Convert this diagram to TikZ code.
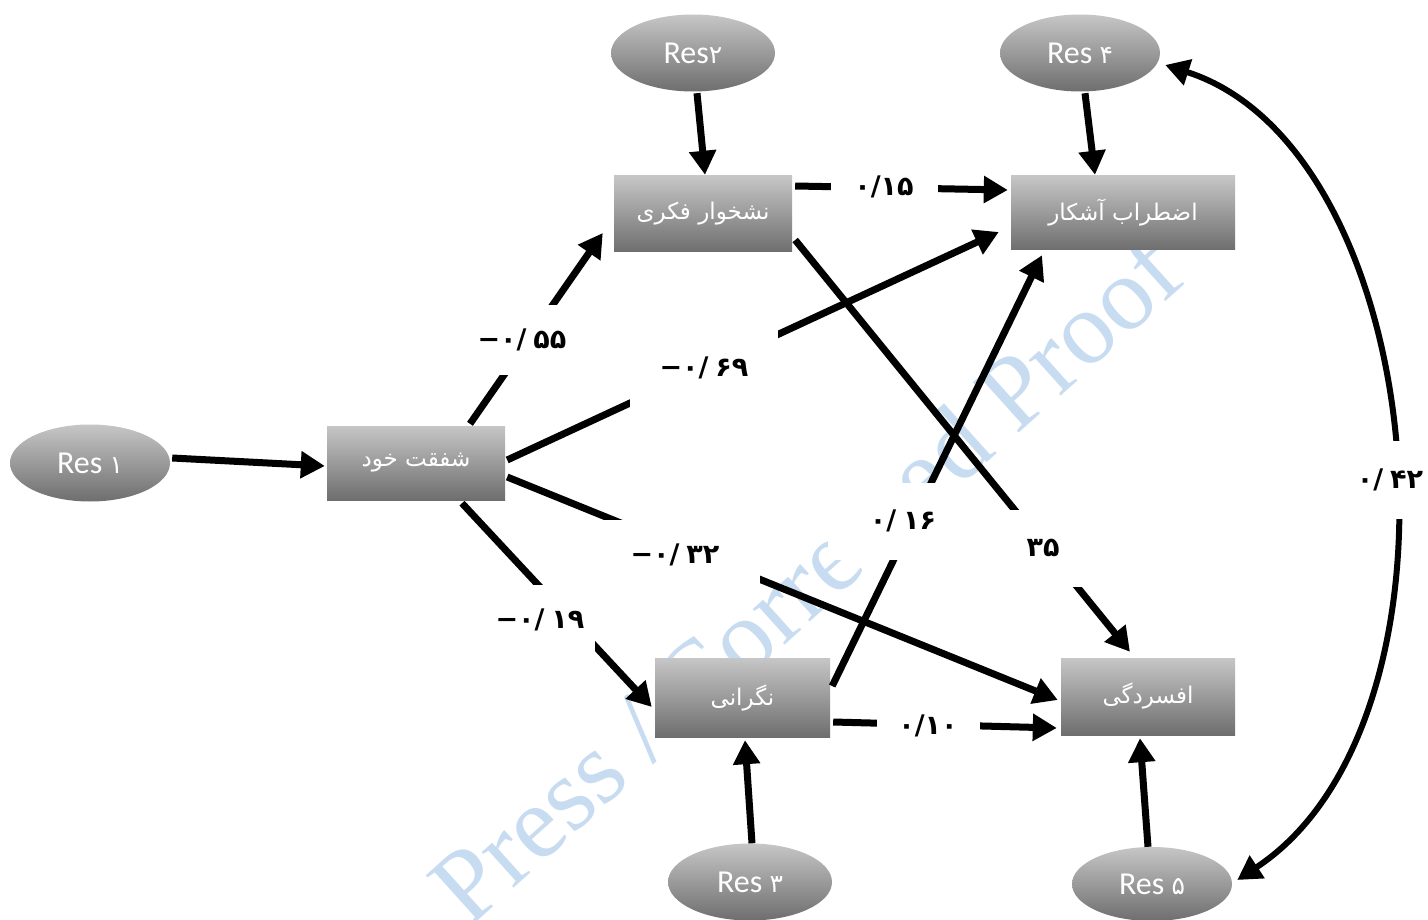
\documentclass[tikz,border=0pt]{standalone}
\usepackage{fontspec}
\setmainfont{Liberation Serif}
\newfontfamily\arabicfont[Script=Arabic]{DejaVu Sans}
\newfontfamily\digitfont{DejaVu Sans}
\newfontfamily\resfont{Carlito}
\usetikzlibrary{shapes.geometric,arrows.meta}
\TeXXeTstate=1

\definecolor{shadetop}{HTML}{C6C6C6}
\definecolor{shadebot}{HTML}{6E6E6E}
\definecolor{wmblue}{HTML}{C8DCF1}

% residual label: Latin "Res" followed by a Persian digit
\newcommand\resname[2][]{{\resfont Res#1}{\digitfont\fontsize{25}{29}\selectfont #2}}
% coefficient: sign and decimal point, a gap, then the digits
\newcommand\coefval[2]{#1\kern7pt#2}

\tikzset{
  varbox/.style={rectangle, top color=shadetop, bottom color=shadebot,
    text=white, inner sep=0pt,
    font=\arabicfont\fontsize{23}{27}\selectfont},
  resid/.style={ellipse, top color=shadetop, bottom color=shadebot,
    text=white, inner sep=0pt, minimum width=160pt, minimum height=77pt,
    font=\fontsize{32}{36}\selectfont},
  effect/.style={line width=7pt, -{Triangle[length=24pt,width=26pt]}},
  corr/.style={line width=6pt, {Triangle[length=24pt,width=26pt]}-{Triangle[length=24pt,width=26pt]}},
  coef/.style={fill=white, inner sep=0pt,
    font=\digitfont\bfseries\fontsize{27}{31}\selectfont},
}

\begin{document}
\begin{tikzpicture}[x=1pt,y=-1pt]
\useasboundingbox (0,0) rectangle (1428,920);
\fill[white] (0,0) rectangle (1428,920);

% background stamp
\node[text=wmblue, rotate=42, font=\fontsize{104}{104}\selectfont] (stamp) at (805,578) {Press / Corrected Proof};

% observed variables
\node[varbox, minimum width=178pt, minimum height=74pt] (self) at (416,463) {\beginR شفقت خود\endR};
\node[varbox, minimum width=178pt, minimum height=76pt] (rum)  at (703,214) {\beginR نشخوار فکری\endR};
\node[varbox, minimum width=224pt, minimum height=74pt] (anx)  at (1123,213) {\beginR اضطراب آشکار\endR};
\node[varbox, minimum width=175pt, minimum height=79pt] (wor)  at (742.5,697.5) {\beginR نگرانی\endR};
\node[varbox, minimum width=174pt, minimum height=77pt] (dep)  at (1148,696.5) {\beginR افسردگی\endR};

% residuals
\node[resid] (r1) at (90,463) {\resname[\ ]{۱}};
\node[resid, minimum width=164pt] (r2) at (693,53) {\resname{۲}};
\node[resid] (r4) at (1080,53) {\resname[\ ]{۴}};
\node[resid, minimum width=164pt] (r3) at (750,882) {\resname[\ ]{۳}};
\node[resid, minimum height=74pt] (r5) at (1152,884) {\resname[\ ]{۵}};

% residual paths
\draw[effect] ([xshift=2pt,yshift=5pt]r1.east) -- ([xshift=-2pt,yshift=-3pt]self.west);
\draw[effect] ([xshift=4pt,yshift=-1.5pt]r2.south) -- ([xshift=2pt,yshift=1pt]rum.north);
\draw[effect] ([xshift=5pt,yshift=-1.5pt]r4.south) -- ([xshift=-28pt,yshift=1pt]anx.north);
\draw[effect] ([xshift=2pt]r3.north) -- ([xshift=2.5pt,yshift=-3pt]wor.south);
\draw[effect] ([xshift=-4pt]r5.north) -- ([xshift=-8pt,yshift=-3pt]dep.south);

% structural paths
\draw[effect] ([xshift=54pt,yshift=2pt]self.north) -- ([xshift=-11pt,yshift=-19pt]rum.west);
\draw[effect] ([xshift=2pt,yshift=3pt]self.east) -- ([xshift=-12pt,yshift=-19pt]anx.west);
\draw[effect] ([xshift=2pt,yshift=-14pt]self.east) -- ([xshift=-3pt,yshift=-3.5pt]dep.west);
\draw[effect] ([xshift=46pt,yshift=-3pt]self.south) -- ([xshift=-3pt,yshift=-9.5pt]wor.west);
\draw[effect] ([xshift=3pt,yshift=28pt]rum.east) -- ([xshift=-3pt,yshift=23pt]anx.west);
\draw[effect] ([xshift=3pt,yshift=-26pt]rum.east) -- ([xshift=-18pt,yshift=6pt]dep.north);
\draw[effect] ([xshift=2pt,yshift=11.5pt]wor.east) -- ([xshift=-81pt,yshift=-5pt]anx.south);
\draw[effect] ([xshift=3pt,yshift=-24.5pt]wor.east) -- ([xshift=-4pt,yshift=-31.5pt]dep.west);

% residual covariance
\draw[corr] ([xshift=5pt,yshift=-12pt]r4.east) .. controls (1430,150) and (1480,720) .. ([xshift=5pt,yshift=4pt]r5.east);

% coefficients
\node[coef, minimum width=110pt, minimum height=70pt] (c1) at (522,340) {\coefval{−۰/}{۵۵}};
\node[coef, minimum width=148pt, minimum height=82pt] (c2) at (704,368) {\coefval{−۰/}{۶۹}};
\node[coef, minimum width=170pt, minimum height=70pt] (c3) at (675,555) {\coefval{−۰/}{۳۲}};
\node[coef, minimum width=110pt, minimum height=70pt] (c4) at (540,620) {\coefval{−۰/}{۱۹}};
\node[coef, minimum width=107pt, minimum height=40pt] (c5) at (884,187) {۰/۱۵};
\node[coef, minimum width=86pt, minimum height=77pt] (c6) at (1043,548) {۳۵};
\node[coef, minimum width=150pt, minimum height=77pt] (c7) at (903,521) {\coefval{۰/}{۱۶}};
\node[coef, minimum width=103pt, minimum height=40pt] (c8) at (928,726) {۰/۱۰};
\node[coef, minimum width=90pt, minimum height=78pt] (c9) at (1390,480) {\coefval{۰/}{۴۲}};
\end{tikzpicture}
\end{document}
